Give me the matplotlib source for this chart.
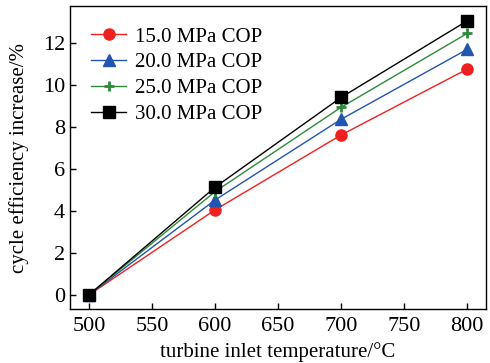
import matplotlib
matplotlib.use("Agg")
import matplotlib.pyplot as plt

plt.rcParams['font.family'] = ['Liberation Serif', 'DejaVu Serif']

# data
temps = [500, 600, 700, 800]
cop_15 = [0, 4.05, 7.62, 10.76]
cop_20 = [0, 4.52, 8.37, 11.70]
cop_25 = [0, 4.92, 8.94, 12.46]
cop_30 = [0, 5.13, 9.41, 13.06]
labels = ["15.0 MPa COP", "20.0 MPa COP", "25.0 MPa COP", "30.0 MPa COP"]

fig = plt.figure(figsize=(4.9, 3.63), dpi=100)
ax = fig.add_axes([0.143, 0.149, 0.849, 0.834])

ax.plot(temps, cop_15, color='#ee2020', marker='o', markersize=8, lw=1, label=labels[0])
ax.plot(temps, cop_20, color='#2255b0', marker='^', markersize=9, lw=1, label=labels[1])
ax.plot(temps, cop_25, color='#2e8a3a', marker='+', markersize=7, mew=2, lw=1, label=labels[2])
ax.plot(temps, cop_30, color='black', marker='s', markersize=8, lw=1, label=labels[3])

ax.set_xlim(485, 815)
ax.set_ylim(-0.67, 13.76)
ax.set_xticks([500, 550, 600, 650, 700, 750, 800])
ax.set_yticks([0, 2, 4, 6, 8, 10, 12])
ax.tick_params(direction='in', labelsize=16, length=4, width=1)
ax.tick_params(axis='x', pad=6)
for s in ax.spines.values():
    s.set_linewidth(1)

ax.set_xlabel("turbine inlet temperature/°C", fontsize=15, labelpad=4)
ax.set_ylabel("cycle efficiency increase/%", fontsize=15, labelpad=10)

ax.legend(loc='upper left', frameon=False, fontsize=15, handlelength=1.7,
          handletextpad=0.4, labelspacing=0.3, borderaxespad=0.6)

fig.savefig("out.png", dpi=100)
